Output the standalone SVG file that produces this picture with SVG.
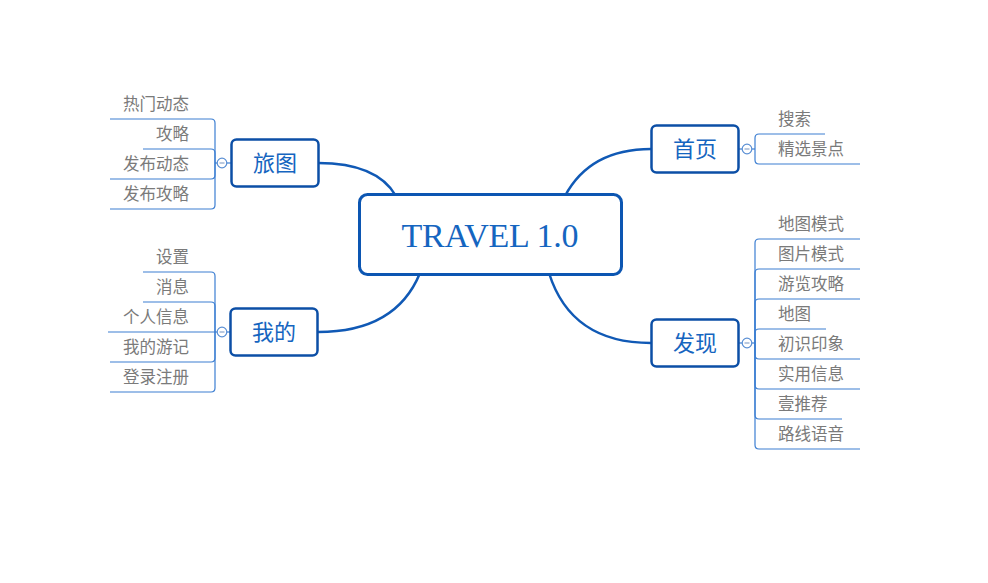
<svg xmlns="http://www.w3.org/2000/svg" width="988" height="583" viewBox="0 0 988 583">
<style>
.bg{fill:#ffffff}
.main{fill:#ffffff;stroke:#0c4fa6;stroke-width:2.5}
.center{fill:#ffffff;stroke:#0c56b2;stroke-width:3}
.conn{fill:none;stroke:#1059b5;stroke-width:2.5}
.leafline{fill:none;stroke:#3d7fd2;stroke-width:1.2}
.tlabel{font-family:"Noto Sans CJK SC","Noto Sans",sans-serif;font-size:22px;fill:#1565c0;text-anchor:middle}
.ctitle{font-family:"Liberation Serif","DejaVu Serif",serif;font-size:34px;fill:#1565c0;text-anchor:middle}
.leaf{font-family:"Noto Sans CJK SC","Noto Sans",sans-serif;font-size:16.5px;fill:#7a7a7a}
.lr{text-anchor:end}
.toggle{fill:#ffffff;stroke:#5a8fd4;stroke-width:1.2}
.minus{stroke:#8aa6cc;stroke-width:1.2}
</style>
<rect class="bg" x="0" y="0" width="988" height="583"/>
<g id="connectors">
<path class="conn" d="M318 163 Q377 163 396 196"/>
<path class="conn" d="M651 149 Q590 149 565 196"/>
<path class="conn" d="M318 332 Q396 332 420 273"/>
<path class="conn" d="M651 343 Q571 343 549 273"/>
</g>
<g id="center">
<rect class="center" x="359.5" y="194.5" width="262" height="80" rx="8"/>
<text class="ctitle" x="490" y="247" textLength="177" lengthAdjust="spacing">TRAVEL 1.0</text>
</g>
<g id="lvtu">
<g class="leaves">
<path class="leafline" d="M215 163 V123 Q215 119 211 119 H110"/>
<path class="leafline" d="M215 163 V153 Q215 149 211 149 H143"/>
<path class="leafline" d="M215 163 V175 Q215 179 211 179 H110"/>
<path class="leafline" d="M215 163 V205 Q215 209 211 209 H110"/>
<line class="leafline" x1="215" y1="163" x2="231" y2="163"/>
<text class="leaf lr" x="189" y="110">热门动态</text>
<text class="leaf lr" x="189" y="140">攻略</text>
<text class="leaf lr" x="189" y="170">发布动态</text>
<text class="leaf lr" x="189" y="200">发布攻略</text>
<circle class="toggle" cx="222" cy="163" r="4.8"/>
<line class="minus" x1="219.5" y1="163" x2="224.5" y2="163"/>
</g>
<rect class="main" x="231.5" y="139.5" width="87" height="47" rx="5"/>
<text class="tlabel" x="275" y="171">旅图</text>
</g>
<g id="wode">
<g class="leaves">
<path class="leafline" d="M215 332 V276 Q215 272 211 272 H143"/>
<path class="leafline" d="M215 332 V306 Q215 302 211 302 H143"/>
<path class="leafline" d="M215 332 H108"/>
<path class="leafline" d="M215 332 V358 Q215 362 211 362 H110"/>
<path class="leafline" d="M215 332 V388 Q215 392 211 392 H110"/>
<line class="leafline" x1="215" y1="332" x2="230" y2="332"/>
<text class="leaf lr" x="189" y="263">设置</text>
<text class="leaf lr" x="189" y="293">消息</text>
<text class="leaf lr" x="189" y="323">个人信息</text>
<text class="leaf lr" x="189" y="353">我的游记</text>
<text class="leaf lr" x="189" y="383">登录注册</text>
<circle class="toggle" cx="222" cy="332" r="4.8"/>
<line class="minus" x1="219.5" y1="332" x2="224.5" y2="332"/>
</g>
<rect class="main" x="230.5" y="308.5" width="87" height="47" rx="5"/>
<text class="tlabel" x="274" y="340">我的</text>
</g>
<g id="shouye">
<g class="leaves">
<path class="leafline" d="M755 149 V138 Q755 134 759 134 H825"/>
<path class="leafline" d="M755 149 V160 Q755 164 759 164 H860"/>
<line class="leafline" x1="739" y1="149" x2="755" y2="149"/>
<text class="leaf" x="778" y="125">搜索</text>
<text class="leaf" x="778" y="155">精选景点</text>
<circle class="toggle" cx="747" cy="149" r="4.8"/>
<line class="minus" x1="744.5" y1="149" x2="749.5" y2="149"/>
</g>
<rect class="main" x="651.5" y="125.5" width="87" height="47" rx="5"/>
<text class="tlabel" x="695" y="157">首页</text>
</g>
<g id="faxian">
<g class="leaves">
<path class="leafline" d="M755 343 V243 Q755 239 759 239 H860"/>
<path class="leafline" d="M755 343 V273 Q755 269 759 269 H860"/>
<path class="leafline" d="M755 343 V303 Q755 299 759 299 H860"/>
<path class="leafline" d="M755 343 V333 Q755 329 759 329 H826"/>
<path class="leafline" d="M755 343 V355 Q755 359 759 359 H860"/>
<path class="leafline" d="M755 343 V385 Q755 389 759 389 H860"/>
<path class="leafline" d="M755 343 V415 Q755 419 759 419 H842"/>
<path class="leafline" d="M755 343 V445 Q755 449 759 449 H860"/>
<line class="leafline" x1="739" y1="343" x2="755" y2="343"/>
<text class="leaf" x="778" y="230">地图模式</text>
<text class="leaf" x="778" y="260">图片模式</text>
<text class="leaf" x="778" y="290">游览攻略</text>
<text class="leaf" x="778" y="320">地图</text>
<text class="leaf" x="778" y="350">初识印象</text>
<text class="leaf" x="778" y="380">实用信息</text>
<text class="leaf" x="778" y="410">壹推荐</text>
<text class="leaf" x="778" y="440">路线语音</text>
<circle class="toggle" cx="747" cy="343" r="4.8"/>
<line class="minus" x1="744.5" y1="343" x2="749.5" y2="343"/>
</g>
<rect class="main" x="651.5" y="319.5" width="87" height="47" rx="5"/>
<text class="tlabel" x="695" y="351">发现</text>
</g>
</svg>
